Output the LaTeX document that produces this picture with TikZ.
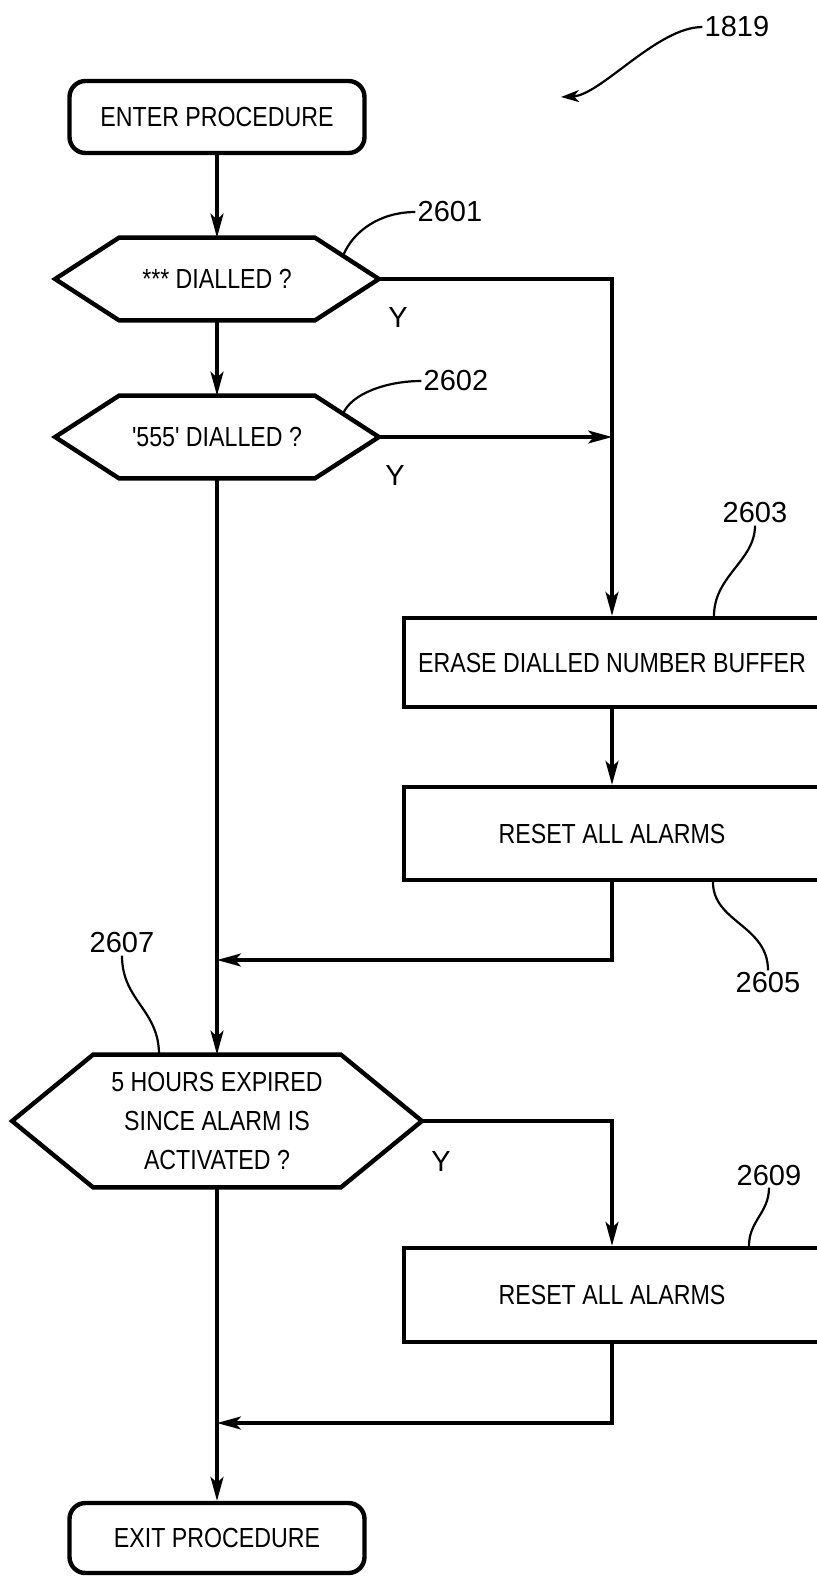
\documentclass[tikz,border=0pt]{standalone}
\usepackage{fontspec}
\setmainfont{Liberation Sans}
\newfontfamily\boxfont{Liberation Sans}[FakeStretch=0.84]
\usetikzlibrary{positioning, calc, arrows.meta}
\tikzstyle{arrow} = [line width=1.6pt,-{Stealth[length=12pt,width=6.5pt,inset=3pt]}]
\tikzstyle{term} = [draw,line width=2.2pt,rounded corners=8pt,minimum width=147.5pt,minimum height=36pt,font=\boxfont\fontsize{13.8}{19.3}\selectfont]
\tikzstyle{procbox} = [draw,line width=2.2pt,minimum width=208pt,font=\boxfont\fontsize{13.8}{19.3}\selectfont]
\tikzstyle{decision} = [inner sep=0pt,align=center,font=\boxfont\fontsize{13.8}{19.3}\selectfont]
\tikzstyle{hexline} = [line width=2.2pt,line join=miter]
\tikzstyle{leader} = [line width=1.1pt]
\tikzstyle{refnum} = [inner sep=1pt,font=\fontsize{14.5}{17}\selectfont]

\begin{document}
\begin{tikzpicture}[x=0.5pt,y=-0.5pt,on grid]
\useasboundingbox (0,0) rectangle (817,1576);
\clip (0,0) rectangle (817,1576);
% main column
\node[term] (enter) at (217,117) {ENTER PROCEDURE};
\node[decision,minimum width=97.5pt,minimum height=41pt] (dial) [below=81pt of enter] {*** DIALLED ?};
\node[decision,minimum width=97.5pt,minimum height=41pt] (five) [below=79pt of dial] {'555' DIALLED ?};
\node[decision,minimum width=123.5pt,minimum height=66pt] (hours) [below=342pt of five] {5 HOURS EXPIRED\\SINCE ALARM IS\\ACTIVATED ?};
\node[term,minimum height=35pt] (exit) [below=208.5pt of hours] {EXIT PROCEDURE};
% right column
\node[procbox,minimum height=44.5pt] (erase) [below right=112.75pt and 197.5pt of five] {ERASE DIALLED NUMBER BUFFER};
\node[procbox,minimum height=46.5pt] (reset) [below=85.5pt of erase] {RESET ALL ALARMS};
\node[procbox,minimum height=47pt] (reset2) [below right=87pt and 197.5pt of hours] {RESET ALL ALARMS};
% hexagons
\foreach \n/\w in {dial/64,five/64,hours/81} {
  \coordinate (\n-r) at ($(\n.east)+(\w,0)$);
  \coordinate (\n-l) at ($(\n.west)-(\w,0)$);
  \draw[hexline] (\n.north west) -- (\n.north east) -- (\n-r) -- (\n.south east) -- (\n.south west) -- (\n-l) -- cycle;
}
% flow
\draw[arrow] (enter) -- (dial);
\draw[arrow] (dial) -- (five);
\draw[arrow] (five) -- (hours);
\draw[arrow] (hours) -- (exit);
\draw[arrow] (dial-r) -| (erase.north);
\draw[arrow] (five-r) -- (five-r -| erase.north);
\draw[arrow] (erase) -- (reset);
\coordinate (join1) at (217,960);
\draw[arrow] (reset.south) |- (join1);
\draw[arrow] (hours-r) -| (reset2.north);
\coordinate (join2) at (217,1423);
\draw[arrow] (reset2.south) |- (join2);
\node[refnum] (y1) at (398,318) {Y};
\node[refnum] (y2) at (395,476) {Y};
\node[refnum] (y3) at (441,1162) {Y};
% reference numerals
\node[refnum] (l1819) at (737,27) {1819};
\coordinate (tip1819) at (561,97);
\draw[leader,-{Stealth[length=9pt,width=6pt,inset=2.5pt]}] (l1819.west) .. controls +(-45,0) and +(40,-2) .. (tip1819);
\node[refnum] (l2601) at (450,212) {2601};
\coordinate (dial-e) at ($(dial.north east)!0.44!(dial-r)$);
\draw[leader] (l2601.west) .. controls +(-35,0) and +(10,-25) .. (dial-e);
\node[refnum] (l2602) at (456,381) {2602};
\coordinate (five-e) at ($(five.north east)!0.44!(five-r)$);
\draw[leader] (l2602.west) .. controls +(-35,0) and +(8,-20) .. (five-e);
\node[refnum] (l2603) at (755,513) {2603};
\coordinate (erase-e) at ($(erase.north)+(102,0)$);
\draw[leader] (l2603.south) .. controls +(0,35) and +(0,-40) .. (erase-e);
\node[refnum] (l2605) at (768,983) {2605};
\coordinate (reset-e) at ($(reset.south)+(101,0)$);
\draw[leader] (reset-e) .. controls +(0,40) and +(0,-45) .. (l2605.north);
\node[refnum] (l2607) at (122,943) {2607};
\coordinate (hours-e) at ($(hours.north)+(-58,0)$);
\draw[leader] (l2607.south) .. controls +(0,45) and +(0,-45) .. (hours-e);
\node[refnum] (l2609) at (769,1175) {2609};
\coordinate (reset2-e) at ($(reset2.north)+(137,0)$);
\draw[leader] (l2609.south) .. controls +(0,25) and +(0,-25) .. (reset2-e);
\end{tikzpicture}
\end{document}
